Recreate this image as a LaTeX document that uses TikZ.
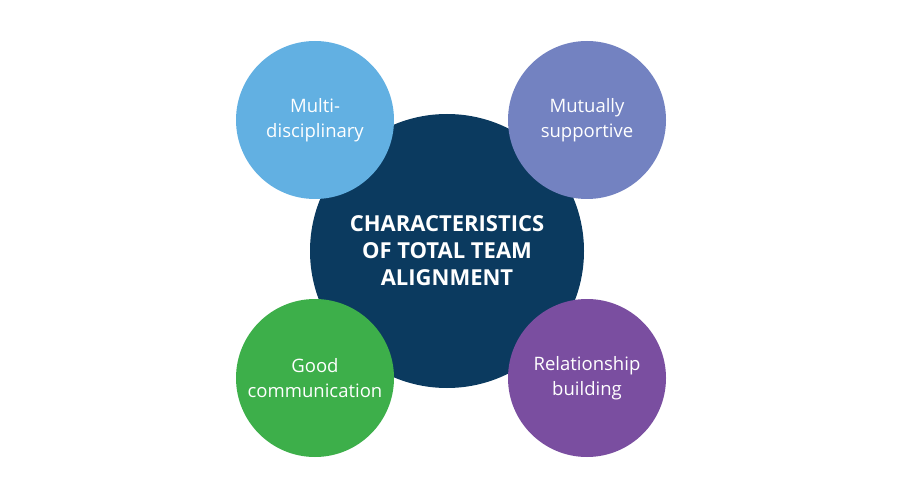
\documentclass[tikz,border=0pt]{standalone}
\usepackage{fontspec}
\setmainfont{Open Sans}
\definecolor{hubnavy}{HTML}{0B3A5F}
\definecolor{skyblue}{HTML}{62B0E2}
\definecolor{slateviolet}{HTML}{7382C1}
\definecolor{leafgreen}{HTML}{3DAF4A}
\definecolor{plum}{HTML}{7A4EA0}

\begin{document}
\begin{tikzpicture}[x=1pt,y=-1pt,
  hub/.style={circle,fill=hubnavy,minimum size=274pt,inner sep=0pt,text=white,align=center,font=\fontsize{22}{27}\selectfont\bfseries},
  trait/.style={circle,minimum size=158pt,inner sep=0pt,text=white,align=center,font=\fontsize{18.5}{25}\selectfont}]
\useasboundingbox (0,0) rectangle (900,497);
\node[hub] (core) at (447,251) {CHARACTERISTICS\\OF TOTAL TEAM\\ALIGNMENT};
\node[trait,fill=skyblue] (multi) at (315,120) {Multi-\\disciplinary};
\node[trait,fill=slateviolet] (mutual) at (587,120) {Mutually\\supportive};
\node[trait,fill=leafgreen] (comm) at (315,378) {Good\\communication};
\node[trait,fill=plum] (relate) at (587,378) {Relationship\\building};
\end{tikzpicture}
\end{document}
